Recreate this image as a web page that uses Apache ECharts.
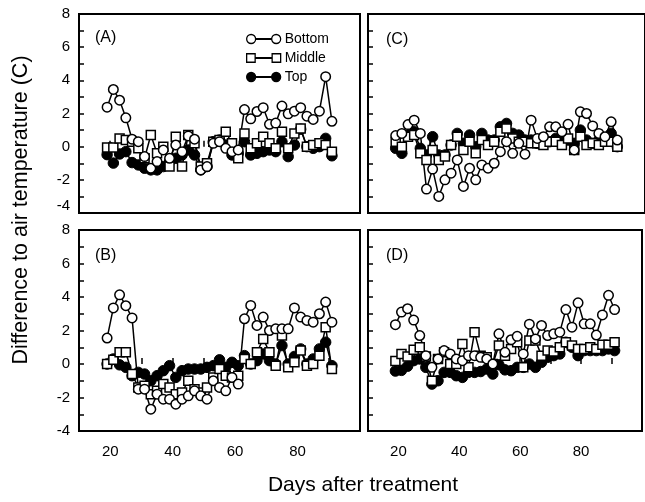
<!DOCTYPE html>
<html>
<head>
<meta charset="utf-8">
<script src="https://cdn.jsdelivr.net/npm/echarts@6/dist/echarts.min.js"></script>
<style>
html,body{margin:0;padding:0;background:#fff;}
#chart{width:645px;height:502px;}
</style>
</head>
<body>
<div id="chart"></div>
<script>
// ---- data ----
const days = [19,21,23,25,27,29,31,33,35,37,39,41,43,45,47,49,51,53,55,57,59,61,63,65,67,69,71,73,75,77,79,81,83,85,87,89,91];

const aBottom = [2.38,3.45,2.8,1.74,0.45,0.3,-0.6,-1.3,-0.9,-0.2,-0.7,0.1,-0.3,0.65,0.45,-1.4,-1.2,0.2,0.3,-0.1,-0.3,-0.2,2.24,1.68,2.12,2.35,1.35,1.42,2.45,1.98,2.14,2.35,1.84,1.64,2.14,4.22,1.53];
const aMiddle = [-0.05,-0.05,0.5,0.4,0.3,-0.1,-0.7,0.7,-0.4,0.0,-1.2,0.6,-1.2,0.7,0.2,-1.2,-1.0,0.3,0.4,0.9,0.2,-0.7,0.8,-0.1,0.2,0.6,0.2,-0.1,0.9,-0.1,0.8,1.1,0.0,0.1,0.2,0.1,-0.3];
const aTop = [-0.48,-0.99,-0.44,-0.3,-0.96,-1.1,-1.3,-1.4,-1.4,-1.2,-0.9,-0.7,-0.5,-0.2,-0.5,-1.4,-1.2,0.3,0.4,0.1,-0.5,-0.4,0.3,-0.5,-0.4,-0.3,-0.2,-0.3,0.3,-0.6,0.1,1.05,0.0,-0.1,0.0,0.5,-0.55];

const bBottom = [1.55,3.35,4.13,3.48,2.75,-1.5,-1.5,-2.7,-1.8,-2.1,-2.1,-2.4,-2.1,-1.9,-1.6,-1.9,-2.1,-1.0,-1.4,-1.6,-0.8,-1.2,2.7,3.5,2.3,2.8,2.0,2.1,2.1,2.1,3.35,2.8,2.6,2.5,3.0,3.7,2.5];
const bMiddle = [0.0,0.25,0.7,0.7,-0.6,-1.4,-1.3,-1.8,-1.6,-1.2,-1.4,-1.8,-1.7,-1.0,-1.5,-1.7,-1.4,-0.8,-0.3,-0.7,-0.8,-0.7,0.3,0.0,0.7,1.5,0.7,-0.1,1.7,-0.2,0.1,0.8,-0.1,0.0,0.5,2.2,-0.3];
const bTop = [0.0,0.3,-0.05,-0.2,-0.7,-0.5,-0.6,-1.0,-0.7,-0.4,-0.1,-0.8,-0.4,-0.3,-0.3,-0.3,-0.2,-0.1,0.25,-0.2,0.1,-0.1,0.5,0.0,0.2,0.6,0.2,0.0,1.1,0.0,0.45,0.9,0.0,0.3,0.9,1.3,-0.1];

const cBottom = [0.67,0.8,1.33,1.6,0.8,-2.56,-1.35,-3.0,-2.0,-1.6,-0.8,-2.4,-1.3,-2.0,-1.1,-1.3,-1.0,-0.3,0.3,-0.4,0.2,-0.45,1.6,0.5,0.6,1.2,1.2,0.9,1.35,-0.2,2.1,2.0,1.25,0.8,0.6,1.5,0.4];
const cMiddle = [0.3,0.0,0.6,0.7,-0.4,-0.8,-0.2,-0.8,-0.6,0.1,0.6,-0.2,0.3,-0.4,0.4,0.1,0.3,0.9,1.1,0.5,0.3,0.3,0.2,0.2,0.1,0.3,0.3,0.1,0.5,-0.2,0.6,0.1,0.2,0.1,0.3,0.3,0.0];
const cTop = [-0.1,-0.4,0.7,0.9,-0.1,-0.5,0.6,-0.5,-0.5,0.1,0.8,0.2,0.7,0.0,0.8,0.4,0.4,1.2,1.4,0.8,0.7,0.4,0.4,0.2,0.5,0.3,0.5,0.6,0.4,0.2,1.0,0.4,0.2,0.4,0.4,0.8,0.0];

const dBottom = [2.35,3.1,3.3,2.62,1.7,0.5,-0.2,0.3,0.8,0.6,0.3,0.2,0.5,0.5,0.4,0.3,0.0,1.8,0.7,1.45,1.65,0.6,2.38,1.5,2.3,1.7,1.8,1.9,3.25,2.2,3.65,2.4,2.4,1.73,2.93,4.1,3.25];
const dMiddle = [0.18,0.6,0.45,0.85,1.0,0.45,-1.0,0.3,0.7,0.0,0.0,1.2,-0.2,1.9,0.5,0.4,0.0,1.1,0.5,0.9,1.3,-0.2,1.4,1.4,0.5,0.8,0.75,1.0,1.3,1.1,0.9,0.9,1.0,0.9,1.15,1.15,1.3];
const dTop = [-0.42,-0.38,-0.13,0.2,0.3,-0.2,-1.2,-1.0,-0.5,-0.5,-0.7,-0.8,-0.5,-0.5,-0.45,-0.3,-0.6,-0.05,-0.35,-0.4,-0.2,-0.2,0.0,-0.2,0.1,0.4,0.5,0.6,1.3,1.0,0.5,0.8,0.8,0.8,0.8,0.9,0.8];

const seriesNames = ['Bottom','Middle','Top'];
const panelLabels = ['(A)','(B)','(C)','(D)'];
const xTickLabels = [20,40,60,80];
const yTickLabels = [-4,-2,0,2,4,6,8];
const xTitle = 'Days after treatment';
const yTitle = 'Difference to air temperature (C)';

// ---- chart ----
const FONT = '"Liberation Sans", Arial, Helvetica, sans-serif';
const panels = [
  {data:[aBottom,aMiddle,aTop], grid:{left:79, top:14, width:281, height:199}, xLab:false, yLab:true, lift:true},
  {data:[bBottom,bMiddle,bTop], grid:{left:79, top:230, width:281, height:201}, xLab:true, yLab:true, lift:false},
  {data:[cBottom,cMiddle,cTop], grid:{left:368, top:14, width:281, height:199}, xLab:false, yLab:false, lift:false},
  {data:[dBottom,dMiddle,dTop], grid:{left:368, top:230, width:281, height:201}, xLab:true, yLab:false, lift:false}
];

const pair = arr => days.map((d,i)=>[d, arr[i]]);

const styleFor = {
  Bottom: {symbol:'circle', symbolSize:9.5, itemStyle:{color:'#fff', borderColor:'#000', borderWidth:1.5}},
  Middle: {symbol:'rect', symbolSize:9, itemStyle:{color:'#fff', borderColor:'#000', borderWidth:1.5}},
  Top: {symbol:'circle', symbolSize:10.5, itemStyle:{color:'#000', borderColor:'#000', borderWidth:1}}
};

const grids = [], xAxes = [], yAxes = [], series = [];
panels.forEach((p, gi) => {
  grids.push(Object.assign({show:true, borderColor:'#000', borderWidth:2, backgroundColor:'transparent'}, p.grid));
  xAxes.push({
    type:'value', gridIndex:gi, min:10, max:100, interval:10,
    axisLine:{show:false},
    axisTick:{show:true, inside:true, length:6, lineStyle:{color:'#000', width:1.5}},
    splitLine:{show:false},
    axisLabel:{show:p.xLab, margin:13, color:'#000', fontSize:15, fontFamily:FONT,
      formatter: v => xTickLabels.indexOf(v) >= 0 ? String(v) : ''}
  });
  yAxes.push({
    type:'value', gridIndex:gi, min:-4, max:8, interval:2,
    axisLine:{show:false},
    axisTick:{show:true, inside:true, length:5, lineStyle:{color:'#000', width:1.5}},
    minorTick:{show:true, splitNumber:2, length:5, lineStyle:{color:'#000', width:1.5}},
    splitLine:{show:false},
    axisLabel:{show:p.yLab, margin:9, color:'#000', fontSize:15, fontFamily:FONT,
      formatter: v => {
        if (yTickLabels.indexOf(v) < 0) return '';
        return (p.lift && v === yTickLabels[0]) ? '{lift|' + v + '}' : String(v);
      },
      rich:{lift:{color:'#000', fontSize:15, fontFamily:FONT, padding:[0,0,14,0]}}
    }
  });
  // draw Top first, Bottom last (on top)
  [2,1,0].forEach(si => {
    const name = seriesNames[si];
    const st = styleFor[name];
    series.push({
      type:'line', name:name, xAxisIndex:gi, yAxisIndex:gi,
      data: pair(p.data[si]),
      symbol:st.symbol, symbolSize:st.symbolSize, showAllSymbol:true,
      itemStyle:st.itemStyle,
      lineStyle:{color:'#000', width:1.5},
      emphasis:{disabled:true},
      animation:false
    });
  });
});

const circPair = 'path://M0.7,5a4.3,4.3 0 1,0 8.6,0a4.3,4.3 0 1,0 -8.6,0zM9.3,4.75h15.4v0.5h-15.4zM24.7,5a4.3,4.3 0 1,0 8.6,0a4.3,4.3 0 1,0 -8.6,0z';
const rectPair = 'path://M1,1h8v8h-8zM9,4.75h16v0.5h-16zM25,1h8v8h-8z';

const option = {
  backgroundColor:'#fff',
  animation:false,
  grid:grids, xAxis:xAxes, yAxis:yAxes, series:series,
  legend:{
    orient:'vertical', left:241, top:27, itemGap:5,
    itemWidth:34, itemHeight:10,
    selectedMode:false,
    textStyle:{color:'#000', fontSize:14, fontFamily:FONT, padding:[0,0,0,-1]},
    itemStyle:{borderWidth:1.3, borderColor:'#000'},
    data:[
      {name:'Bottom', icon:circPair},
      {name:'Middle', icon:rectPair},
      {name:'Top', icon:circPair}
    ]
  },
  graphic:[
    {type:'text', left:95, top:30, style:{text:panelLabels[0], fontSize:16, fontFamily:FONT, fill:'#000'}},
    {type:'text', left:95, top:248, style:{text:panelLabels[1], fontSize:16, fontFamily:FONT, fill:'#000'}},
    {type:'text', left:386, top:32, style:{text:panelLabels[2], fontSize:16, fontFamily:FONT, fill:'#000'}},
    {type:'text', left:386, top:248, style:{text:panelLabels[3], fontSize:16, fontFamily:FONT, fill:'#000'}},
    {type:'text', x:21, y:210, rotation:Math.PI/2,
      style:{text:yTitle, fontSize:21.5, fontFamily:FONT, fill:'#000', align:'center', verticalAlign:'middle'}},
    {type:'text', x:363, y:485,
      style:{text:xTitle, fontSize:21, fontFamily:FONT, fill:'#000', align:'center', verticalAlign:'middle'}}
  ]
};

const chart = echarts.init(document.getElementById('chart'), null, {renderer:'canvas'});
chart.setOption(option);
</script>
</body>
</html>
